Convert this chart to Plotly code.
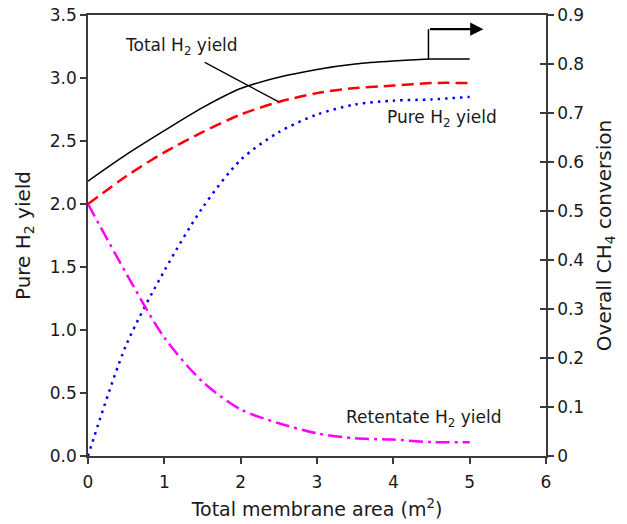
import plotly.graph_objects as go

# Total membrane area (m^2)
area = [0, 0.5, 1.0, 1.5, 2.0, 2.5, 3.0, 3.5, 4.0, 4.5, 5.0]

# H2 yields (left axis)
total_h2 = [2.00, 2.22, 2.41, 2.57, 2.71, 2.81, 2.88, 2.92, 2.94, 2.96, 2.96]
pure_h2 = [0.00, 0.88, 1.47, 1.97, 2.35, 2.57, 2.71, 2.79, 2.82, 2.83, 2.85]
retentate_h2 = [2.00, 1.45, 0.94, 0.59, 0.37, 0.26, 0.18, 0.14, 0.13, 0.11, 0.11]

# Overall CH4 conversion (right axis)
ch4_conv = [0.561, 0.615, 0.664, 0.711, 0.750, 0.773, 0.789, 0.800, 0.806, 0.810, 0.810]

left_ticks = [0, 0.5, 1.0, 1.5, 2.0, 2.5, 3.0, 3.5]
right_ticks = [0, 0.1, 0.2, 0.3, 0.4, 0.5, 0.6, 0.7, 0.8, 0.9]
right_labels = ["0", "0.1", "0.2", "0.3", "0.4", "0.5", "0.6", "0.7", "0.8", "0.9"]
x_ticks = [0, 1, 2, 3, 4, 5, 6]

FONT = "DejaVu Sans"
AXIS = "#3a3a3a"
TXT = "#1a1a1a"
SMOOTH = 0.8

fig = go.Figure()

fig.add_trace(go.Scatter(x=area, y=ch4_conv, yaxis="y2", mode="lines",
                         line=dict(color="black", width=1.5, shape="spline", smoothing=SMOOTH),
                         hoverinfo="skip"))
fig.add_trace(go.Scatter(x=area, y=total_h2, mode="lines",
                         line=dict(color="#ff0000", width=2.5, dash="12px,6px",
                                   shape="spline", smoothing=SMOOTH)))
fig.add_trace(go.Scatter(x=area, y=pure_h2, mode="lines",
                         line=dict(color="#0000ff", width=2.5, dash="2.5px,5px",
                                   shape="spline", smoothing=SMOOTH)))
fig.add_trace(go.Scatter(x=area, y=retentate_h2, mode="lines",
                         line=dict(color="#ff00ff", width=2.5, dash="14px,5px,3px,5px",
                                   shape="spline", smoothing=SMOOTH)))
# carrier for the inner tick marks on the right axis
fig.add_trace(go.Scatter(x=[None], y=[None], yaxis="y3", mode="lines",
                         hoverinfo="skip"))

# arrow showing the conversion curve belongs to the right axis
arrow_x = 4.46
arrow_top = 0.871
arrow_end = 5.18
fig.add_shape(type="line", xref="x", yref="y2",
              x0=arrow_x, x1=arrow_x, y0=ch4_conv[9], y1=arrow_top,
              line=dict(color="black", width=1.5))
fig.add_annotation(xref="x", yref="y2", axref="x", ayref="y2",
                   x=arrow_end, y=arrow_top, ax=arrow_x, ay=arrow_top,
                   text="", showarrow=True, arrowhead=2, arrowsize=1.2,
                   arrowwidth=2.2, arrowcolor="black")

# curve labels
fig.add_annotation(xref="x", yref="y", x=area[5], y=total_h2[5],
                   ax=1.51, ay=3.13, axref="x", ayref="y",
                   showarrow=True, arrowhead=0, arrowwidth=1.3, arrowcolor="black",
                   text="")
fig.add_annotation(xref="x", yref="y", x=1.22, y=3.25, showarrow=False,
                   text="Total H<sub>2</sub> yield",
                   font=dict(family=FONT, size=17, color=TXT))
fig.add_annotation(xref="x", yref="y", x=4.64, y=2.68, showarrow=False,
                   text="Pure H<sub>2</sub> yield",
                   font=dict(family=FONT, size=17, color=TXT))
fig.add_annotation(xref="x", yref="y", x=4.40, y=0.30, showarrow=False,
                   text="Retentate H<sub>2</sub> yield",
                   font=dict(family=FONT, size=17, color=TXT))

tickfont = dict(family=FONT, size=17, color=TXT)
titlefont = dict(family=FONT, size=20, color=TXT)

fig.update_layout(
    width=627, height=524,
    margin=dict(l=88, r=81, t=15, b=68),
    paper_bgcolor="white", plot_bgcolor="white",
    showlegend=False,
    xaxis=dict(range=[0, 6], tickvals=x_ticks, ticks="outside", ticklen=6,
               tickwidth=1.5, tickcolor=AXIS, showline=True, linecolor=AXIS,
               linewidth=1.5, mirror=True, showgrid=False, zeroline=False,
               tickfont=tickfont, ticklabelstandoff=4, automargin=False,
               title=dict(text="Total membrane area (m<sup>2</sup>)",
                          font=dict(family=FONT, size=19, color=TXT), standoff=12)),
    yaxis=dict(range=[0, 3.5], tickvals=left_ticks, tickformat=".1f",
               ticks="outside", ticklen=6, tickwidth=1.5, tickcolor=AXIS,
               showline=True, linecolor=AXIS, linewidth=1.5, showgrid=False,
               zeroline=False, tickfont=tickfont, automargin=False,
               title=dict(text="Pure H<sub>2</sub> yield", font=titlefont, standoff=14)),
    yaxis2=dict(range=[0, 0.9], overlaying="y", side="right",
                tickvals=right_ticks, ticktext=right_labels,
                ticks="outside", ticklen=6, tickwidth=1.5, tickcolor=AXIS,
                showline=True, linecolor=AXIS, linewidth=1.5, showgrid=False,
                zeroline=False, tickfont=tickfont, automargin=False,
                title=dict(text="Overall CH<sub>4</sub> conversion", font=titlefont,
                           standoff=14)),
    yaxis3=dict(range=[0, 0.9], overlaying="y", side="right",
                tickvals=right_ticks, ticks="inside", ticklen=6, tickwidth=1.5,
                tickcolor=AXIS, showticklabels=False, showline=False,
                showgrid=False, zeroline=False, automargin=False),
)

fig.write_html("out.html")
